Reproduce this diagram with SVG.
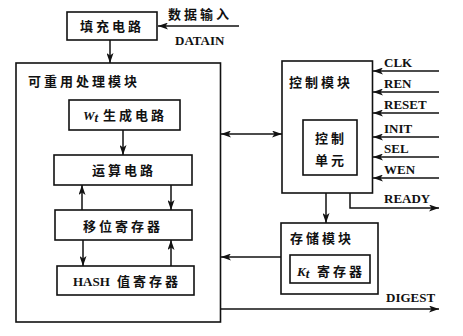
<svg xmlns="http://www.w3.org/2000/svg" width="463" height="336" viewBox="0 0 463 336">
<defs>
<marker id="ah" markerUnits="userSpaceOnUse" markerWidth="10" markerHeight="7" refX="10" refY="3.5" orient="auto-start-reverse">
<path d="M0,0 L10,3.5 L0,7 L2.5,3.5 z" fill="#111"/>
</marker>
<style>
.box{fill:#fff;stroke:#111;stroke-width:1.6}
.ln{fill:none;stroke:#111;stroke-width:1.5}
.arr{marker-end:url(#ah)}
.zh{font-family:"Noto Sans CJK SC","Noto Sans",sans-serif;font-size:13px;font-weight:bold;fill:#111;letter-spacing:3px}
.en{font-family:"Liberation Serif",serif;font-size:13px;font-weight:bold;fill:#111}
</style>
</defs>
<rect width="463" height="336" fill="#fff"/>

<g id="padding">
<rect class="box" x="67" y="12" width="90" height="28"/>
<text class="zh" x="80" y="31">填充电路</text>
</g>
<text class="zh" x="168" y="19">数据输入</text>
<text class="en" x="175" y="45">DATAIN</text>

<g id="reuse">
<rect class="box" x="16" y="63" width="204.5" height="259"/>
<text class="zh" x="28" y="86">可重用处理模块</text>
</g>
<g id="wt">
<rect class="box" x="69" y="100" width="111" height="30"/>
<text x="83" y="120"><tspan class="en" font-style="italic">W</tspan><tspan class="en" font-style="italic" font-size="8" dy="2">t</tspan><tspan class="zh" dy="-2" x="103">生成电路</tspan></text>
</g>
<g id="alu">
<rect class="box" x="54" y="155" width="138" height="30"/>
<text class="zh" x="92" y="175">运算电路</text>
</g>
<g id="shift">
<rect class="box" x="55" y="210" width="137" height="30"/>
<text class="zh" x="83" y="231">移位寄存器</text>
</g>
<g id="hash">
<rect class="box" x="57" y="266" width="137" height="29"/>
<text class="en" x="73" y="286">HASH</text>
<text class="zh" x="117" y="286">值寄存器</text>
</g>

<g id="ctrl">
<rect class="box" x="282" y="61" width="90.5" height="132"/>
<text class="zh" x="289" y="87">控制模块</text>
</g>
<g id="ctrlunit">
<rect class="box" x="303" y="120" width="54" height="55"/>
<text class="zh" x="315" y="143">控制</text>
<text class="zh" x="315" y="165">单元</text>
</g>

<g id="store">
<rect class="box" x="281" y="223" width="97" height="71"/>
<text class="zh" x="290" y="243">存储模块</text>
</g>
<g id="kt">
<rect class="box" x="290" y="255" width="80" height="28"/>
<text x="297" y="276"><tspan class="en" font-style="italic">K</tspan><tspan class="en" font-style="italic" font-size="8" dy="2">t</tspan><tspan class="zh" dy="-2" x="317">寄存器</tspan></text>
</g>

<g id="labels">
<text class="en" x="384" y="67">CLK</text>
<text class="en" x="384" y="88">REN</text>
<text class="en" x="384" y="109">RESET</text>
<text class="en" x="384" y="133">INIT</text>
<text class="en" x="384" y="153">SEL</text>
<text class="en" x="384" y="174">WEN</text>
<text class="en" x="384" y="203">READY</text>
<text class="en" x="386" y="302">DIGEST</text>
</g>

<g id="connectors">
<path class="ln arr" d="M239,26 H158"/>
<path class="ln arr" d="M110,40 V63"/>
<path class="ln arr" d="M123,130 V155"/>
<path class="ln arr" d="M82,210 V185"/>
<path class="ln arr" d="M171,185 V210"/>
<path class="ln arr" d="M83,240 V266"/>
<path class="ln arr" d="M171,266 V240"/>
<path class="ln arr" d="M221,134 H282" style="marker-start:url(#ah)"/>
<path class="ln arr" d="M439,71 H373"/>
<path class="ln arr" d="M439,92 H373"/>
<path class="ln arr" d="M439,113 H373"/>
<path class="ln arr" d="M439,137 H373"/>
<path class="ln arr" d="M439,157 H373"/>
<path class="ln arr" d="M439,178 H373"/>
<path class="ln arr" d="M326,193 V223"/>
<path class="ln arr" d="M350,193 V208 H439"/>
<path class="ln arr" d="M281,257 H221"/>
<path class="ln arr" d="M221,309 H439"/>
</g>
</svg>
